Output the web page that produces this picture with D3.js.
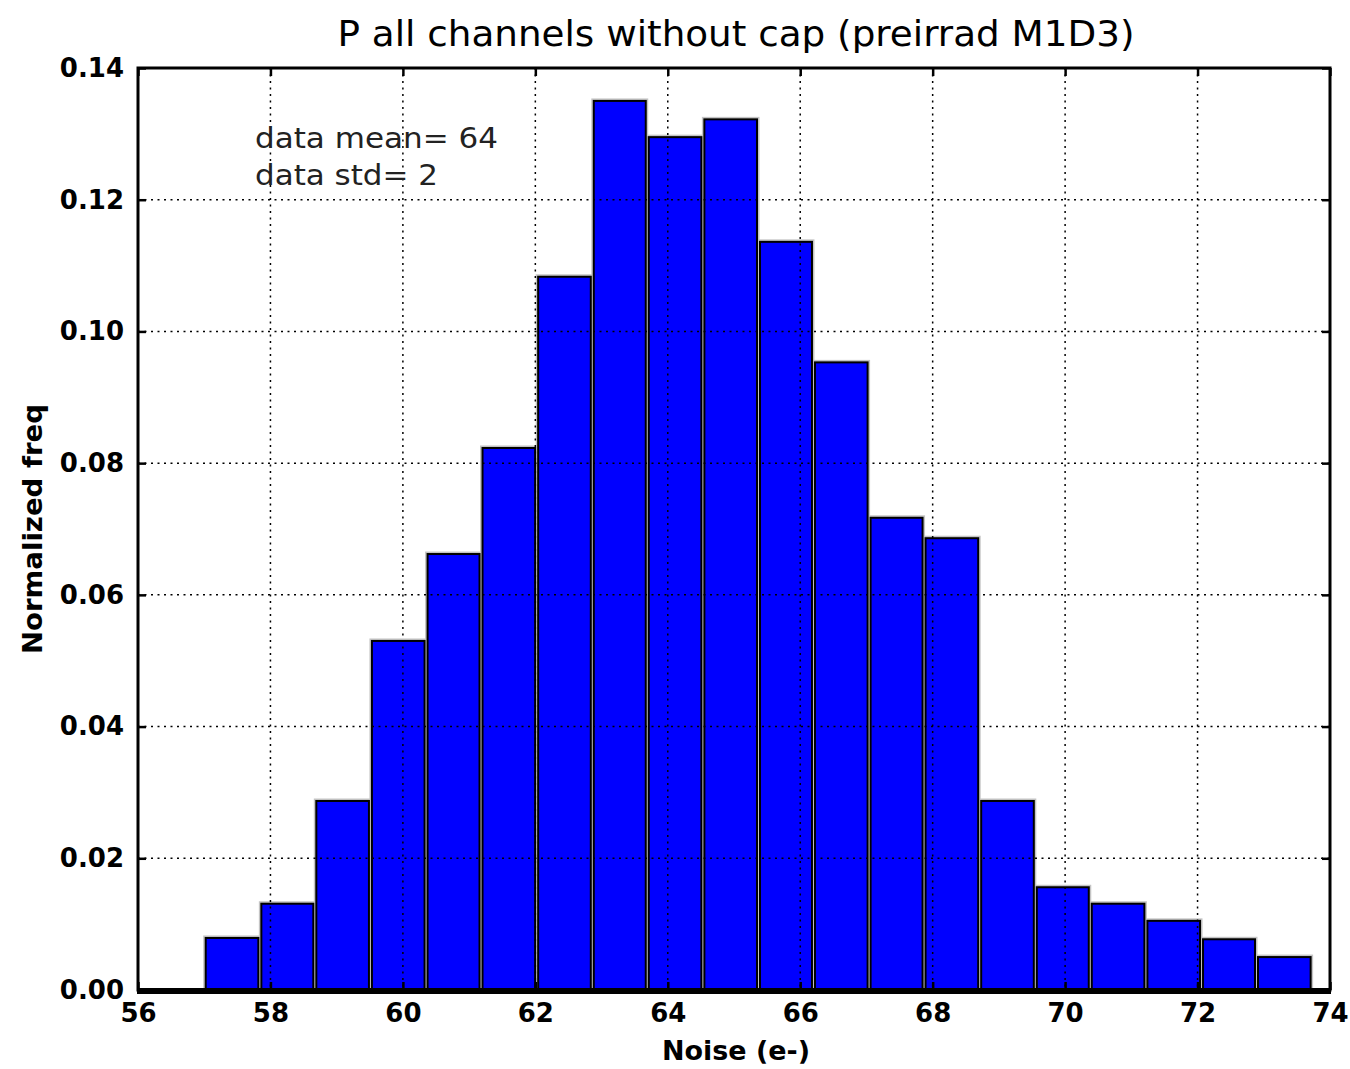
<!DOCTYPE html>
<html>
<head>
<meta charset="utf-8">
<script src="https://cdn.jsdelivr.net/npm/d3@7/dist/d3.min.js"></script>
<style>
  html, body { margin: 0; padding: 0; background: #fff; }
  svg { display: block; }
</style>
</head>
<body>
<svg id="chart" width="1350" height="1069"></svg>
<script>
// ---- data ----
const binEdges = [57.00, 57.84, 58.67, 59.51, 60.35, 61.18, 62.02, 62.86, 63.69, 64.53,
                  65.37, 66.20, 67.04, 67.87, 68.71, 69.55, 70.38, 71.22, 72.06, 72.89, 73.73];
const freqValues = [0.0079, 0.0131, 0.0287, 0.0530, 0.0662, 0.0823, 0.1083, 0.1350, 0.1295, 0.1322,
                    0.1136, 0.0953, 0.0717, 0.0686, 0.0287, 0.0156, 0.0131, 0.0105, 0.0077, 0.0050];
const xTicks = [56, 58, 60, 62, 64, 66, 68, 70, 72, 74];
const yTicks = [0.00, 0.02, 0.04, 0.06, 0.08, 0.10, 0.12, 0.14];
const titleText = "P all channels without cap (preirrad M1D3)";
const xLabelText = "Noise (e-)";
const yLabelText = "Normalized freq";
const annotationLines = ["data mean= 64", "data std= 2"];

// ---- layout ----
const plot = { left: 138, right: 1330, top: 68, bottom: 990 };
const svg = d3.select("#chart");
const x = d3.scaleLinear().domain([56, 74]).range([plot.left, plot.right]);
const y = d3.scaleLinear().domain([0, 0.14]).range([plot.bottom, plot.top]);

const bins = freqValues.map((v, i) => ({ x0: binEdges[i], x1: binEdges[i + 1], v }));

function drawGrid() {
  const g = svg.append("g").attr("stroke", "#000").attr("stroke-width", 1.5)
    .attr("stroke-dasharray", "2,4.5");
  g.selectAll("line.v").data(xTicks.slice(1, -1)).join("line").attr("class", "v")
    .attr("x1", d => x(d)).attr("x2", d => x(d))
    .attr("y1", plot.top).attr("y2", plot.bottom);
  g.selectAll("line.h").data(yTicks.slice(1, -1)).join("line").attr("class", "h")
    .attr("y1", d => y(d)).attr("y2", d => y(d))
    .attr("x1", plot.left).attr("x2", plot.right);
}

// bars (halo then black edge)
const barG = svg.append("g");
barG.selectAll("rect.halo").data(bins).join("rect").attr("class", "halo")
  .attr("x", d => x(d.x0) + 1.5).attr("width", d => x(d.x1) - x(d.x0) - 3)
  .attr("y", d => y(d.v)).attr("height", d => y(0) - y(d.v))
  .attr("fill", "none").attr("stroke", "#c4c4c4").attr("stroke-width", 5);
barG.selectAll("rect.bar").data(bins).join("rect").attr("class", "bar")
  .attr("x", d => x(d.x0) + 1.5).attr("width", d => x(d.x1) - x(d.x0) - 3)
  .attr("y", d => y(d.v)).attr("height", d => y(0) - y(d.v))
  .attr("fill", "#0000ff").attr("stroke", "#000").attr("stroke-width", 2);

// grid drawn over bars (as in the reference)
drawGrid();

// frame
svg.append("rect").attr("x", plot.left).attr("y", plot.top)
  .attr("width", plot.right - plot.left).attr("height", plot.bottom - plot.top)
  .attr("fill", "none").attr("stroke", "#000").attr("stroke-width", 3);
svg.append("line").attr("x1", plot.left - 1).attr("x2", plot.right + 1)
  .attr("y1", y(0) + 1).attr("y2", y(0) + 1).attr("stroke", "#000").attr("stroke-width", 6);

// axes with inward ticks
const font = "'DejaVu Sans', sans-serif";
const xAxisB = d3.axisBottom(x).tickValues(xTicks).tickSize(-8).tickPadding(14).tickFormat(d3.format("d"));
const xAxisT = d3.axisTop(x).tickValues(xTicks).tickSize(-8).tickFormat("");
const yAxisL = d3.axisLeft(y).tickValues(yTicks).tickSize(-8).tickPadding(14).tickFormat(d3.format(".2f"));
const yAxisR = d3.axisRight(y).tickValues(yTicks).tickSize(-8).tickFormat("");

function styleAxis(g) {
  g.select(".domain").remove();
  g.selectAll(".tick line").attr("stroke", "#000").attr("stroke-width", 2.5);
  g.selectAll(".tick text").attr("fill", "#000")
    .style("font-family", font).style("font-size", "26px").style("font-weight", "bold");
}
svg.append("g").attr("transform", `translate(0,${plot.bottom})`).call(xAxisB).call(styleAxis);
svg.append("g").attr("transform", `translate(0,${plot.top})`).call(xAxisT).call(styleAxis);
svg.append("g").attr("transform", `translate(${plot.left},0)`).call(yAxisL).call(styleAxis);
svg.append("g").attr("transform", `translate(${plot.right},0)`).call(yAxisR).call(styleAxis);

// title
svg.append("text").attr("x", 736).attr("y", 46)
  .attr("text-anchor", "middle")
  .attr("textLength", 797).attr("lengthAdjust", "spacingAndGlyphs")
  .style("font-family", font).style("font-size", "36px").attr("fill", "#000")
  .text(titleText);

// x label
svg.append("text").attr("x", 736).attr("y", 1060)
  .attr("text-anchor", "middle")
  .attr("textLength", 148).attr("lengthAdjust", "spacingAndGlyphs")
  .style("font-family", font).style("font-size", "26px").style("font-weight", "bold")
  .attr("fill", "#000").text(xLabelText);

// y label
svg.append("text")
  .attr("transform", `translate(42,${(plot.top + plot.bottom) / 2}) rotate(-90)`)
  .attr("text-anchor", "middle")
  .attr("textLength", 250).attr("lengthAdjust", "spacingAndGlyphs")
  .style("font-family", font).style("font-size", "26px").style("font-weight", "bold")
  .attr("fill", "#000").text(yLabelText);

// annotation
const annWidths = [243, 183];
annotationLines.forEach((t, i) => {
  svg.append("text").attr("x", 255).attr("y", 148 + i * 37)
    .attr("textLength", annWidths[i]).attr("lengthAdjust", "spacingAndGlyphs")
    .style("font-family", font).style("font-size", "29px").attr("fill", "#222")
    .text(t);
});
</script>
</body>
</html>
